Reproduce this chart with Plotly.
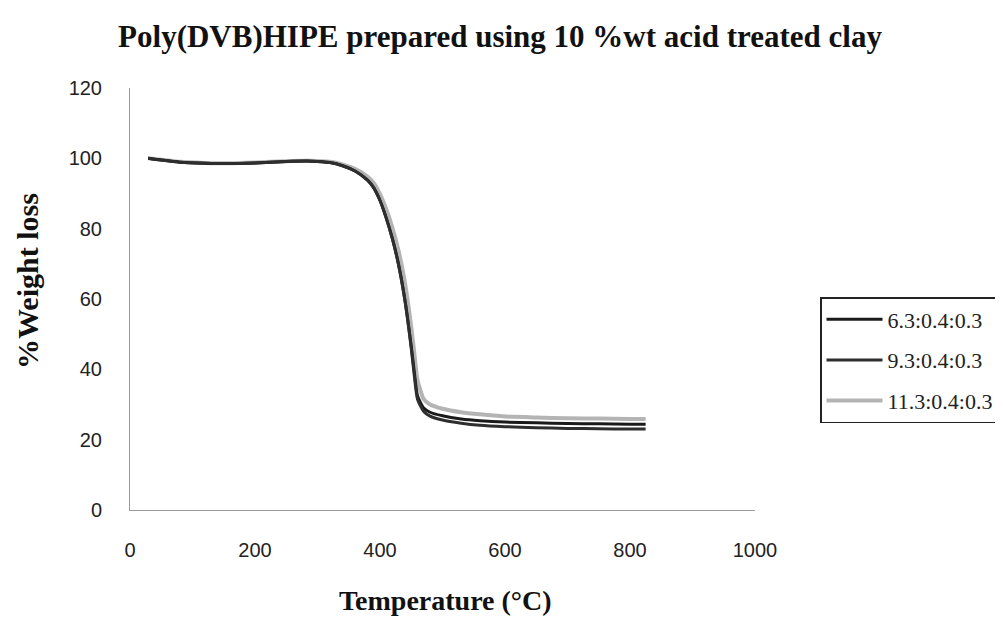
import plotly.graph_objects as go

temps = [29, 50, 80, 120, 160, 200, 250, 290, 320, 340, 360, 380, 390, 400, 410,
         420, 430, 440, 450, 455, 460, 470, 480, 500, 530, 560, 600, 650, 700, 750, 800, 825]

s1_name = "6.3:0.4:0.3"
s1 = [100, 99.5, 98.9, 98.6, 98.5, 98.7, 99.1, 99.2, 98.8, 97.9, 96.4, 93.8, 91.6, 88.0, 83.0,
      77.0, 69.5, 59.5, 46.5, 39.0, 32.5, 29.0, 27.8, 26.8, 25.9, 25.4, 25.0, 24.8, 24.6, 24.5, 24.4, 24.4]

s2_name = "9.3:0.4:0.3"
s2 = [100, 99.5, 98.9, 98.6, 98.5, 98.7, 99.1, 99.2, 98.8, 97.9, 96.4, 93.8, 91.6, 88.0, 83.0,
      77.0, 69.5, 59.5, 46.0, 38.0, 31.5, 28.0, 26.7, 25.6, 24.7, 24.1, 23.7, 23.4, 23.2, 23.1, 23.0, 23.0]

s3_name = "11.3:0.4:0.3"
s3 = [100, 99.6, 99.0, 98.7, 98.6, 98.8, 99.2, 99.3, 99.0, 98.3, 97.0, 94.8, 93.0, 89.8, 85.5,
      80.2, 73.5, 64.5, 52.0, 44.5, 37.0, 31.5, 30.0, 28.8, 27.8, 27.2, 26.6, 26.3, 26.1, 26.0, 25.9, 25.9]

y_ticks = [0, 20, 40, 60, 80, 100, 120]
x_ticks = [0, 200, 400, 600, 800, 1000]

# page body has an 8px margin; figure coordinates = page coordinates - 8
OFF = 8
W, H = 1003 - OFF, 617 - OFF
PL, PR, PT, PB = 130 - OFF, 755 - OFF, 88 - OFF, 510 - OFF  # plot area in figure px
pw, ph = PR - PL, PB - PT


def px_x(x):
    return (x - OFF - PL) / pw


def px_y(y):
    return (PB - (y - OFF)) / ph


fig = go.Figure()
fig.add_trace(go.Scatter(x=temps, y=s3, mode="lines", name=s3_name, legendgroup="c",
                         line=dict(color="#b4b4b4", width=4, shape="spline", smoothing=0.6),
                         legendrank=3))
fig.add_trace(go.Scatter(x=temps, y=s1, mode="lines", name=s1_name, legendgroup="a",
                         line=dict(color="#1a1a1a", width=3, shape="spline", smoothing=0.6),
                         legendrank=1))
fig.add_trace(go.Scatter(x=temps, y=s2, mode="lines", name=s2_name, legendgroup="b",
                         line=dict(color="#2e2e2e", width=3, shape="spline", smoothing=0.6),
                         legendrank=2))

fig.update_layout(
    width=W, height=H,
    margin=dict(l=PL, r=W - PR, t=PT, b=H - PB),
    paper_bgcolor="white", plot_bgcolor="white",
    title=dict(text="<b>Poly(DVB)HIPE prepared using 10 %wt acid treated clay</b>",
               x=(500 - OFF) / W, xref="container", y=1 - (36 - OFF) / H, yref="container",
               yanchor="middle", xanchor="center",
               font=dict(family="Liberation Serif", size=31, color="#111")),
    xaxis=dict(range=[0, 1000], tickvals=x_ticks, showgrid=False, zeroline=False,
               showline=True, linecolor="#9a9a9a", linewidth=1, ticks="",
               ticklabelstandoff=22,
               tickfont=dict(family="Liberation Sans", size=20, color="#222")),
    yaxis=dict(range=[0, 120], tickvals=y_ticks, showgrid=False, zeroline=False,
               showline=True, linecolor="#9a9a9a", linewidth=1, ticks="",
               ticklabelstandoff=23,
               tickfont=dict(family="Liberation Sans", size=20, color="#222")),
    showlegend=True,
    legend=dict(x=(820 - OFF) / W, xref="container", y=px_y(297), xanchor="left", yanchor="top",
                bordercolor="#222", borderwidth=1.5, bgcolor="white",
                tracegroupgap=9, itemwidth=56,
                font=dict(family="Liberation Serif", size=22, color="#222")),
    annotations=[
        dict(text="<b>Temperature (°C)</b>", xref="paper", yref="paper",
             x=px_x(445), y=px_y(600), showarrow=False,
             xanchor="center", yanchor="middle",
             font=dict(family="Liberation Serif", size=28, color="#111")),
        dict(text="<b>%Weight loss</b>", xref="paper", yref="paper",
             x=px_x(27), y=px_y(281), showarrow=False, textangle=-90,
             xanchor="center", yanchor="middle",
             font=dict(family="Liberation Serif", size=30, color="#111")),
    ],
)

fig.write_html("out.html")
